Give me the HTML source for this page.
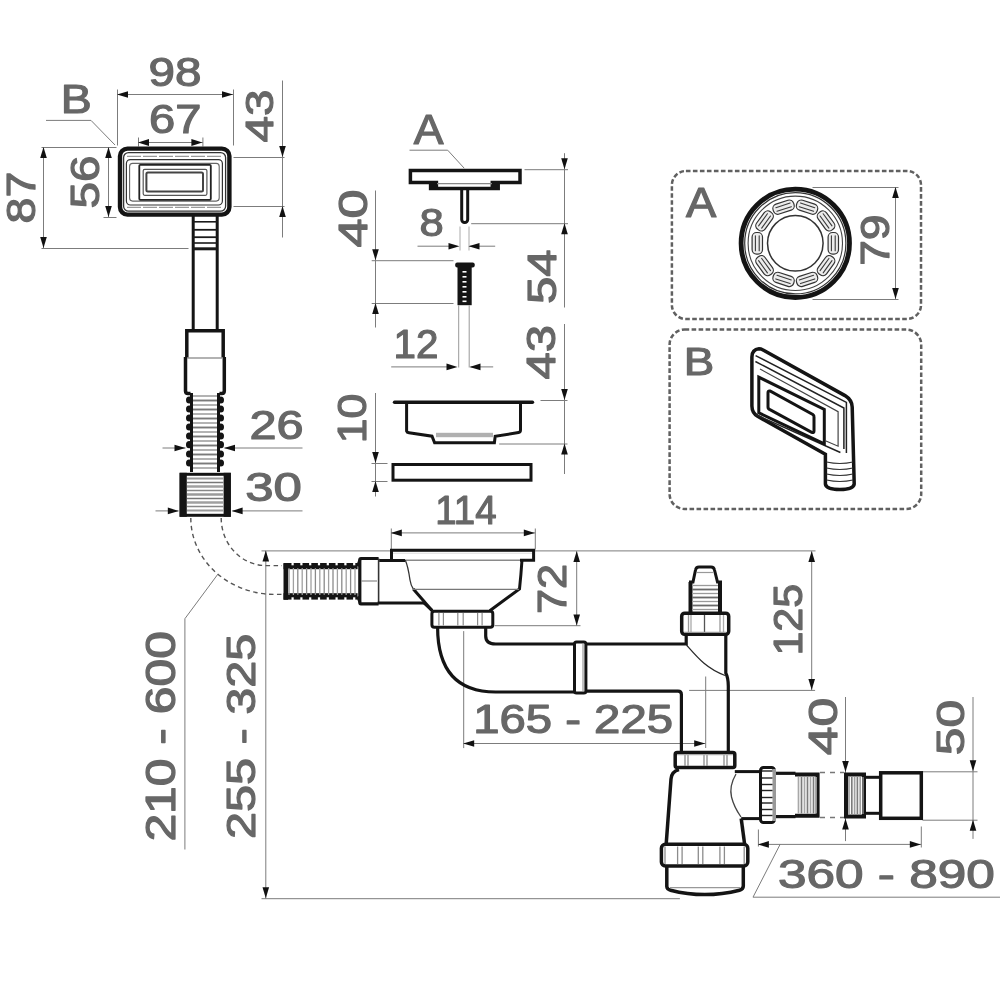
<!DOCTYPE html><html><head><meta charset="utf-8"><style>html,body{margin:0;padding:0;background:#fff;overflow:hidden}svg{display:block;will-change:transform;font-family:"Liberation Sans",sans-serif}</style></head><body><svg width="1000" height="1002" viewBox="0 0 1000 1002"><rect width="1000" height="1002" fill="#fff"/><g transform="translate(0.5,0.5)"><line x1="117" y1="94" x2="233" y2="94" stroke="#7c7c7c" stroke-width="1"/><line x1="117" y1="89" x2="117" y2="145" stroke="#7c7c7c" stroke-width="1"/><line x1="233" y1="89" x2="233" y2="145" stroke="#7c7c7c" stroke-width="1"/><line x1="138" y1="142" x2="202.4" y2="142" stroke="#7c7c7c" stroke-width="1"/><line x1="138" y1="137" x2="138" y2="146" stroke="#7c7c7c" stroke-width="1"/><line x1="202.4" y1="137" x2="202.4" y2="146" stroke="#7c7c7c" stroke-width="1"/><line x1="282" y1="80" x2="282" y2="237" stroke="#7c7c7c" stroke-width="1"/><line x1="233" y1="157" x2="284" y2="157" stroke="#7c7c7c" stroke-width="1"/><line x1="233" y1="206" x2="284" y2="206" stroke="#7c7c7c" stroke-width="1"/><line x1="43" y1="147" x2="43" y2="248" stroke="#7c7c7c" stroke-width="1"/><line x1="41" y1="147" x2="116" y2="147" stroke="#7c7c7c" stroke-width="1"/><line x1="41" y1="248" x2="188" y2="248" stroke="#7c7c7c" stroke-width="1"/><line x1="108" y1="147" x2="108" y2="217" stroke="#7c7c7c" stroke-width="1"/><line x1="103" y1="217" x2="116" y2="217" stroke="#7c7c7c" stroke-width="1"/><line x1="162" y1="447.5" x2="185" y2="447.5" stroke="#7c7c7c" stroke-width="1"/><line x1="224" y1="447.5" x2="302" y2="447.5" stroke="#7c7c7c" stroke-width="1"/><line x1="155" y1="510.4" x2="178" y2="510.4" stroke="#7c7c7c" stroke-width="1"/><line x1="232" y1="510.4" x2="302" y2="510.4" stroke="#7c7c7c" stroke-width="1"/><line x1="417" y1="245.7" x2="449" y2="245.7" stroke="#7c7c7c" stroke-width="1"/><line x1="469" y1="245.7" x2="494.7" y2="245.7" stroke="#7c7c7c" stroke-width="1"/><line x1="459.5" y1="226" x2="459.5" y2="250" stroke="#aaa" stroke-width="1"/><line x1="468.5" y1="226" x2="468.5" y2="250" stroke="#aaa" stroke-width="1"/><line x1="564" y1="152.7" x2="564" y2="307" stroke="#7c7c7c" stroke-width="1"/><line x1="564" y1="323.5" x2="564" y2="473.5" stroke="#7c7c7c" stroke-width="1"/><line x1="524" y1="169.2" x2="567.5" y2="169.2" stroke="#7c7c7c" stroke-width="1"/><line x1="470.7" y1="223.2" x2="567.5" y2="223.2" stroke="#7c7c7c" stroke-width="1"/><line x1="540" y1="400" x2="567" y2="400" stroke="#7c7c7c" stroke-width="1"/><line x1="498.7" y1="443.5" x2="567" y2="443.5" stroke="#7c7c7c" stroke-width="1"/><line x1="375" y1="190" x2="375" y2="327" stroke="#7c7c7c" stroke-width="1"/><line x1="371.2" y1="260.2" x2="453" y2="260.2" stroke="#7c7c7c" stroke-width="1"/><line x1="371.2" y1="303" x2="453" y2="303" stroke="#7c7c7c" stroke-width="1"/><line x1="458.2" y1="305" x2="458.2" y2="367" stroke="#999" stroke-width="1"/><line x1="468.7" y1="305" x2="468.7" y2="367" stroke="#999" stroke-width="1"/><line x1="390.7" y1="366.4" x2="447" y2="366.4" stroke="#7c7c7c" stroke-width="1"/><line x1="470" y1="366.4" x2="492.7" y2="366.4" stroke="#7c7c7c" stroke-width="1"/><line x1="375" y1="392.5" x2="375" y2="496" stroke="#7c7c7c" stroke-width="1"/><line x1="371" y1="463" x2="387" y2="463" stroke="#7c7c7c" stroke-width="1"/><line x1="371" y1="481" x2="387" y2="481" stroke="#7c7c7c" stroke-width="1"/><line x1="390.8" y1="532.4" x2="534.8" y2="532.4" stroke="#7c7c7c" stroke-width="1"/><line x1="390.8" y1="528" x2="390.8" y2="549" stroke="#7c7c7c" stroke-width="1"/><line x1="534.8" y1="528" x2="534.8" y2="549" stroke="#7c7c7c" stroke-width="1"/><line x1="265.3" y1="550.4" x2="265.3" y2="898.2" stroke="#7c7c7c" stroke-width="1"/><line x1="261" y1="550.4" x2="815" y2="550.4" stroke="#7c7c7c" stroke-width="1"/><line x1="261" y1="898.2" x2="679.4" y2="898.2" stroke="#7c7c7c" stroke-width="1"/><line x1="576.2" y1="550.9" x2="576.2" y2="625.5" stroke="#7c7c7c" stroke-width="1"/><line x1="494" y1="625.2" x2="580" y2="625.2" stroke="#7c7c7c" stroke-width="1"/><line x1="811.2" y1="551" x2="811.2" y2="689.9" stroke="#7c7c7c" stroke-width="1"/><line x1="688.6" y1="689.9" x2="814.6" y2="689.9" stroke="#7c7c7c" stroke-width="1"/><line x1="463.2" y1="743" x2="705.2" y2="743" stroke="#7c7c7c" stroke-width="1"/><line x1="463.2" y1="630.6" x2="463.2" y2="747.6" stroke="#7c7c7c" stroke-width="1"/><line x1="705.2" y1="676" x2="705.2" y2="747.5" stroke="#7c7c7c" stroke-width="1"/><line x1="845" y1="696.5" x2="845" y2="840.6" stroke="#7c7c7c" stroke-width="1"/><line x1="972.5" y1="696.5" x2="972.5" y2="838.4" stroke="#7c7c7c" stroke-width="1"/><line x1="922" y1="771.3" x2="977" y2="771.3" stroke="#7c7c7c" stroke-width="1"/><line x1="922" y1="819.7" x2="977" y2="819.7" stroke="#7c7c7c" stroke-width="1"/><line x1="757.9" y1="843.9" x2="920.8" y2="843.9" stroke="#7c7c7c" stroke-width="1"/><line x1="757.9" y1="829" x2="757.9" y2="846" stroke="#7c7c7c" stroke-width="1"/><line x1="920.8" y1="826" x2="920.8" y2="847" stroke="#7c7c7c" stroke-width="1"/><line x1="895" y1="187" x2="895" y2="299" stroke="#7c7c7c" stroke-width="1"/><line x1="812" y1="187" x2="898" y2="187" stroke="#7c7c7c" stroke-width="1"/><line x1="812" y1="299" x2="898" y2="299" stroke="#7c7c7c" stroke-width="1"/></g><path d="M46,120.4 H91 L115,145" stroke="#7c7c7c" stroke-width="1" fill="none" /><path d="M117,94.5 L128,91.2 L128,97.8Z" fill="#111"/><path d="M233,94.5 L222,91.2 L222,97.8Z" fill="#111"/><path d="M138,142.5 L149,138.9 L149,146.1Z" fill="#111"/><path d="M202.4,142.5 L191.4,138.9 L191.4,146.1Z" fill="#111"/><path d="M282.5,157 L279.2,146 L285.8,146Z" fill="#111"/><path d="M282.5,206 L279.2,217 L285.8,217Z" fill="#111"/><path d="M43.5,147 L40.2,158 L46.8,158Z" fill="#111"/><path d="M43.5,248 L40.2,237 L46.8,237Z" fill="#111"/><path d="M108.5,147 L105.2,158 L111.8,158Z" fill="#111"/><path d="M108.5,217 L105.2,206 L111.8,206Z" fill="#111"/><rect x="120" y="148.6" width="109.4" height="66" rx="7.5" stroke="#141414" stroke-width="4.4" fill="none" /><rect x="123.6" y="152.6" width="102" height="58.6" rx="5" stroke="#333" stroke-width="1.3" fill="none" /><path d="M127,156.4 H222 M127,207.4 H222" stroke="#9a9a9a" stroke-width="1.2" fill="none" stroke-dasharray="14 2"/><rect x="126.4" y="159.6" width="96" height="45.4" rx="4" stroke="#333" stroke-width="1.2" fill="none" /><rect x="129.6" y="163.4" width="89.6" height="37.7" rx="3" stroke="#666" stroke-width="1.1" fill="none" /><rect x="139.3" y="164.8" width="71.5" height="35" rx="1" stroke="#222" stroke-width="1.8" fill="none" /><rect x="143.2" y="169.3" width="63.7" height="26" rx="1.5" stroke="#555" stroke-width="1.2" fill="none" /><rect x="146.4" y="172.6" width="56.6" height="18.8" rx="1.5" stroke="#444" stroke-width="2" fill="none" /><line x1="193.2" y1="214" x2="193.2" y2="330" stroke="#141414" stroke-width="3" stroke-linecap="butt"/><line x1="217.2" y1="214" x2="217.2" y2="330" stroke="#141414" stroke-width="3" stroke-linecap="butt"/><line x1="193" y1="221.8" x2="217.5" y2="221.8" stroke="#1a1a1a" stroke-width="1.6" stroke-linecap="butt"/><line x1="193" y1="229.8" x2="217.5" y2="229.8" stroke="#1a1a1a" stroke-width="1.8" stroke-linecap="butt"/><line x1="193" y1="237.2" x2="217.5" y2="237.2" stroke="#1a1a1a" stroke-width="1.8" stroke-linecap="butt"/><line x1="193" y1="243" x2="217.5" y2="243" stroke="#1a1a1a" stroke-width="1.6" stroke-linecap="butt"/><line x1="193" y1="248.8" x2="217.5" y2="248.8" stroke="#1a1a1a" stroke-width="3" stroke-linecap="butt"/><path d="M186.8,358 V330.7 H223.2 V358" stroke="#141414" stroke-width="3.5" fill="none" /><path d="M185.5,357 V391 Q185.5,393.5 188,393.5 H190.5 M224.3,357 V391 Q224.3,393.5 221.8,393.5 H219.5" stroke="#141414" stroke-width="3.5" fill="none" /><line x1="187" y1="358" x2="223" y2="358" stroke="#999" stroke-width="1.3" stroke-linecap="butt"/><line x1="191.5" y1="393" x2="191.5" y2="472" stroke="#141414" stroke-width="3" stroke-linecap="butt"/><line x1="218.5" y1="393" x2="218.5" y2="472" stroke="#141414" stroke-width="3" stroke-linecap="butt"/><ellipse cx="189.2" cy="400" rx="3.2" ry="3.6" fill="#141414"/><ellipse cx="220.8" cy="400" rx="3.2" ry="3.6" fill="#141414"/><ellipse cx="189.2" cy="409" rx="3.2" ry="3.6" fill="#141414"/><ellipse cx="220.8" cy="409" rx="3.2" ry="3.6" fill="#141414"/><ellipse cx="189.2" cy="418" rx="3.2" ry="3.6" fill="#141414"/><ellipse cx="220.8" cy="418" rx="3.2" ry="3.6" fill="#141414"/><ellipse cx="189.2" cy="427" rx="3.2" ry="3.6" fill="#141414"/><ellipse cx="220.8" cy="427" rx="3.2" ry="3.6" fill="#141414"/><ellipse cx="189.2" cy="436" rx="3.2" ry="3.6" fill="#141414"/><ellipse cx="220.8" cy="436" rx="3.2" ry="3.6" fill="#141414"/><ellipse cx="189.2" cy="444.7" rx="3.2" ry="3.6" fill="#141414"/><ellipse cx="220.8" cy="444.7" rx="3.2" ry="3.6" fill="#141414"/><ellipse cx="189.2" cy="454" rx="3.2" ry="3.6" fill="#141414"/><ellipse cx="220.8" cy="454" rx="3.2" ry="3.6" fill="#141414"/><ellipse cx="189.2" cy="463" rx="3.2" ry="3.6" fill="#141414"/><ellipse cx="220.8" cy="463" rx="3.2" ry="3.6" fill="#141414"/><line x1="193" y1="396" x2="217" y2="396" stroke="#9a9a9a" stroke-width="1.5" stroke-linecap="butt"/><line x1="193" y1="400.5" x2="217" y2="400.5" stroke="#7a7a7a" stroke-width="1.9" stroke-linecap="butt"/><line x1="193" y1="405" x2="217" y2="405" stroke="#9a9a9a" stroke-width="1.5" stroke-linecap="butt"/><line x1="193" y1="409.5" x2="217" y2="409.5" stroke="#7a7a7a" stroke-width="1.9" stroke-linecap="butt"/><line x1="193" y1="414" x2="217" y2="414" stroke="#9a9a9a" stroke-width="1.5" stroke-linecap="butt"/><line x1="193" y1="418.5" x2="217" y2="418.5" stroke="#7a7a7a" stroke-width="1.9" stroke-linecap="butt"/><line x1="193" y1="423" x2="217" y2="423" stroke="#9a9a9a" stroke-width="1.5" stroke-linecap="butt"/><line x1="193" y1="427.5" x2="217" y2="427.5" stroke="#7a7a7a" stroke-width="1.9" stroke-linecap="butt"/><line x1="193" y1="432" x2="217" y2="432" stroke="#9a9a9a" stroke-width="1.5" stroke-linecap="butt"/><line x1="193" y1="436.5" x2="217" y2="436.5" stroke="#7a7a7a" stroke-width="1.9" stroke-linecap="butt"/><line x1="193" y1="441" x2="217" y2="441" stroke="#9a9a9a" stroke-width="1.5" stroke-linecap="butt"/><line x1="193" y1="445.5" x2="217" y2="445.5" stroke="#7a7a7a" stroke-width="1.9" stroke-linecap="butt"/><line x1="193" y1="450" x2="217" y2="450" stroke="#9a9a9a" stroke-width="1.5" stroke-linecap="butt"/><line x1="193" y1="454.5" x2="217" y2="454.5" stroke="#7a7a7a" stroke-width="1.9" stroke-linecap="butt"/><line x1="193" y1="459" x2="217" y2="459" stroke="#9a9a9a" stroke-width="1.5" stroke-linecap="butt"/><line x1="193" y1="463.5" x2="217" y2="463.5" stroke="#7a7a7a" stroke-width="1.9" stroke-linecap="butt"/><line x1="193" y1="468" x2="217" y2="468" stroke="#9a9a9a" stroke-width="1.5" stroke-linecap="butt"/><rect x="181.1" y="474.3" width="48.2" height="41" rx="0" stroke="#141414" stroke-width="3" fill="none" /><rect x="179.6" y="472.8" width="7.2" height="44" rx="0" fill="#141414"/><rect x="223.6" y="472.8" width="7.2" height="44" rx="0" fill="#141414"/><line x1="187" y1="478.5" x2="223.5" y2="478.5" stroke="#9a9a9a" stroke-width="2.2" stroke-linecap="butt"/><line x1="187" y1="482.5" x2="223.5" y2="482.5" stroke="#777" stroke-width="1.4" stroke-linecap="butt"/><line x1="187" y1="486.5" x2="223.5" y2="486.5" stroke="#a0a0a0" stroke-width="2.4" stroke-linecap="butt"/><line x1="187" y1="490.5" x2="223.5" y2="490.5" stroke="#888" stroke-width="1.4" stroke-linecap="butt"/><line x1="187" y1="494.5" x2="223.5" y2="494.5" stroke="#9a9a9a" stroke-width="2.4" stroke-linecap="butt"/><line x1="187" y1="498.5" x2="223.5" y2="498.5" stroke="#777" stroke-width="1.4" stroke-linecap="butt"/><line x1="187" y1="502.5" x2="223.5" y2="502.5" stroke="#a0a0a0" stroke-width="2.4" stroke-linecap="butt"/><line x1="187" y1="506.5" x2="223.5" y2="506.5" stroke="#888" stroke-width="1.4" stroke-linecap="butt"/><line x1="187" y1="510.5" x2="223.5" y2="510.5" stroke="#9a9a9a" stroke-width="2" stroke-linecap="butt"/><path d="M185.5,448 L174.5,444.7 L174.5,451.3Z" fill="#111"/><path d="M224,448 L235,444.7 L235,451.3Z" fill="#111"/><path d="M178.8,510.9 L167.8,507.6 L167.8,514.2Z" fill="#111"/><path d="M231.6,510.9 L242.6,507.6 L242.6,514.2Z" fill="#111"/><path d="M190.8,518 A84,76.4 0 0 0 275,594.4 H282" stroke="#555" stroke-width="1.4" fill="none" stroke-dasharray="4.5 3.5"/><path d="M221.2,518 A45,47.6 0 0 0 266,565.6 H282" stroke="#555" stroke-width="1.4" fill="none" stroke-dasharray="4.5 3.5"/><path d="M218,574 L184.9,618.7 V849.5" stroke="#7c7c7c" stroke-width="1" fill="none" /><path d="M409.5,150.2 H447.7 L464.2,168.2" stroke="#7c7c7c" stroke-width="1" fill="none" /><path d="M410.4,170.6 H520 V182.4 H492.3 V186 H498.2 V188.6 H430.6 V186 H436.4 V182.4 H410.4 Z" stroke="#141414" stroke-width="3.5" fill="none" /><line x1="437" y1="183.6" x2="492" y2="183.6" stroke="#888" stroke-width="1.2" stroke-linecap="butt"/><path d="M461.7,188 V219.5 A3,3 0 0 0 467.7,219.5 V188" stroke="#141414" stroke-width="3" fill="none" /><path d="M459.5,246.2 L448.5,242.9 L448.5,249.5Z" fill="#111"/><path d="M468.5,246.2 L479.5,242.9 L479.5,249.5Z" fill="#111"/><path d="M564.5,169.2 L561.2,158.2 L567.8,158.2Z" fill="#111"/><path d="M564.5,223.2 L561.2,234.2 L567.8,234.2Z" fill="#111"/><path d="M564.5,400 L561.2,389 L567.8,389Z" fill="#111"/><path d="M564.5,443.5 L561.2,454.5 L567.8,454.5Z" fill="#111"/><path d="M375.5,260.2 L372.2,249.2 L378.8,249.2Z" fill="#111"/><path d="M375.5,303 L372.2,314 L378.8,314Z" fill="#111"/><rect x="455.2" y="262.5" width="19.5" height="5" rx="2" fill="#141414"/><rect x="457.5" y="265" width="14.2" height="40.2" rx="0" fill="#141414"/><rect x="462.5" y="271" width="4" height="1.6" fill="#fff"/><rect x="462.5" y="276" width="4" height="1.6" fill="#fff"/><rect x="462.5" y="281" width="4" height="1.6" fill="#fff"/><rect x="462.5" y="286" width="4" height="1.6" fill="#fff"/><rect x="462.5" y="291" width="4" height="1.6" fill="#fff"/><rect x="462.5" y="296" width="4" height="1.6" fill="#fff"/><rect x="462.5" y="300.5" width="4" height="1.6" fill="#fff"/><path d="M457.5,366.9 L446.5,363.6 L446.5,370.2Z" fill="#111"/><path d="M469.5,366.9 L480.5,363.6 L480.5,370.2Z" fill="#111"/><path d="M375.5,463 L372.2,452 L378.8,452Z" fill="#111"/><path d="M375.5,481 L372.2,492 L378.8,492Z" fill="#111"/><line x1="394.5" y1="402.2" x2="532.5" y2="402.2" stroke="#141414" stroke-width="3.4" stroke-linecap="round"/><path d="M406.6,402 V431 Q407,432.5 409,432.8 L432,436.2 L434.6,442.8 H494.4 L495.2,436.2 L518.5,432.6 Q520.5,432.2 520.5,430 V402" stroke="#141414" stroke-width="3" fill="none" /><rect x="436" y="432.8" width="57" height="4.4" rx="0" fill="#b0b0b0"/><rect x="393" y="464.5" width="138" height="15.7" rx="0" stroke="#141414" stroke-width="3" fill="none" /><path d="M390.8,532.9 L401.8,529.6 L401.8,536.2Z" fill="#111"/><path d="M534.8,532.9 L523.8,529.6 L523.8,536.2Z" fill="#111"/><path d="M265.8,550.4 L262.5,561.4 L269.1,561.4Z" fill="#111"/><path d="M265.8,898.2 L262.5,887.2 L269.1,887.2Z" fill="#111"/><line x1="285.8" y1="563.5" x2="285.8" y2="599.8" stroke="#141414" stroke-width="4.6" stroke-linecap="butt"/><rect x="283.5" y="563" width="74.1" height="6.2" rx="0" fill="#141414"/><rect x="283.5" y="593.2" width="74.1" height="6.4" rx="0" fill="#141414"/><rect x="291.5" y="562.5" width="2.2" height="2.8" rx="0" fill="#fff"/><rect x="291.5" y="597.3" width="2.2" height="2.9" rx="0" fill="#fff"/><rect x="300.3" y="562.5" width="2.2" height="2.8" rx="0" fill="#fff"/><rect x="300.3" y="597.3" width="2.2" height="2.9" rx="0" fill="#fff"/><rect x="309.1" y="562.5" width="2.2" height="2.8" rx="0" fill="#fff"/><rect x="309.1" y="597.3" width="2.2" height="2.9" rx="0" fill="#fff"/><rect x="317.9" y="562.5" width="2.2" height="2.8" rx="0" fill="#fff"/><rect x="317.9" y="597.3" width="2.2" height="2.9" rx="0" fill="#fff"/><rect x="326.7" y="562.5" width="2.2" height="2.8" rx="0" fill="#fff"/><rect x="326.7" y="597.3" width="2.2" height="2.9" rx="0" fill="#fff"/><rect x="335.5" y="562.5" width="2.2" height="2.8" rx="0" fill="#fff"/><rect x="335.5" y="597.3" width="2.2" height="2.9" rx="0" fill="#fff"/><rect x="344.3" y="562.5" width="2.2" height="2.8" rx="0" fill="#fff"/><rect x="344.3" y="597.3" width="2.2" height="2.9" rx="0" fill="#fff"/><rect x="353.1" y="562.5" width="2.2" height="2.8" rx="0" fill="#fff"/><rect x="353.1" y="597.3" width="2.2" height="2.9" rx="0" fill="#fff"/><line x1="289" y1="568" x2="289" y2="595" stroke="#8a8a8a" stroke-width="1.3" stroke-linecap="butt"/><line x1="293.4" y1="568" x2="293.4" y2="595" stroke="#a0a0a0" stroke-width="1.3" stroke-linecap="butt"/><line x1="297.8" y1="568" x2="297.8" y2="595" stroke="#8a8a8a" stroke-width="1.3" stroke-linecap="butt"/><line x1="302.2" y1="568" x2="302.2" y2="595" stroke="#a0a0a0" stroke-width="1.3" stroke-linecap="butt"/><line x1="306.6" y1="568" x2="306.6" y2="595" stroke="#8a8a8a" stroke-width="1.3" stroke-linecap="butt"/><line x1="311" y1="568" x2="311" y2="595" stroke="#a0a0a0" stroke-width="1.3" stroke-linecap="butt"/><line x1="315.4" y1="568" x2="315.4" y2="595" stroke="#8a8a8a" stroke-width="1.3" stroke-linecap="butt"/><line x1="319.8" y1="568" x2="319.8" y2="595" stroke="#a0a0a0" stroke-width="1.3" stroke-linecap="butt"/><line x1="324.2" y1="568" x2="324.2" y2="595" stroke="#8a8a8a" stroke-width="1.3" stroke-linecap="butt"/><line x1="328.6" y1="568" x2="328.6" y2="595" stroke="#a0a0a0" stroke-width="1.3" stroke-linecap="butt"/><line x1="333" y1="568" x2="333" y2="595" stroke="#8a8a8a" stroke-width="1.3" stroke-linecap="butt"/><line x1="337.4" y1="568" x2="337.4" y2="595" stroke="#a0a0a0" stroke-width="1.3" stroke-linecap="butt"/><line x1="341.8" y1="568" x2="341.8" y2="595" stroke="#8a8a8a" stroke-width="1.3" stroke-linecap="butt"/><line x1="346.2" y1="568" x2="346.2" y2="595" stroke="#a0a0a0" stroke-width="1.3" stroke-linecap="butt"/><line x1="350.6" y1="568" x2="350.6" y2="595" stroke="#8a8a8a" stroke-width="1.3" stroke-linecap="butt"/><line x1="355" y1="568" x2="355" y2="595" stroke="#a0a0a0" stroke-width="1.3" stroke-linecap="butt"/><path d="M357.6,566.3 L359.9,560 M357.6,596.5 L359.9,602" stroke="#141414" stroke-width="3" fill="none" /><path d="M378.6,558.5 H361 Q359.8,558.5 359.8,560 V602.5 Q359.8,603.8 361,603.8 H378.6" stroke="#141414" stroke-width="3.2" fill="none" /><line x1="378.6" y1="558.5" x2="378.6" y2="604" stroke="#333" stroke-width="1.6" stroke-linecap="butt"/><line x1="361" y1="581" x2="377" y2="581" stroke="#888" stroke-width="1.2" stroke-linecap="butt"/><line x1="379.2" y1="560.5" x2="391" y2="560.5" stroke="#141414" stroke-width="3" stroke-linecap="butt"/><line x1="377.7" y1="603" x2="424" y2="603" stroke="#141414" stroke-width="3" stroke-linecap="butt"/><path d="M391.5,562 V550.2 H533.6 V560.2 H520" stroke="#141414" stroke-width="3" fill="none" /><line x1="390" y1="560.5" x2="405" y2="560.5" stroke="#141414" stroke-width="3" stroke-linecap="butt"/><line x1="405" y1="560.2" x2="520" y2="560.2" stroke="#8a8a8a" stroke-width="1.6" stroke-linecap="butt"/><line x1="393" y1="553.2" x2="532" y2="553.2" stroke="#dcdcdc" stroke-width="1.1" stroke-linecap="butt"/><path d="M405.2,560 Q408,566 410,580 Q411,586 413.3,589 L424,601" stroke="#333" stroke-width="1.3" fill="none" /><path d="M424,603 L432.2,610.7" stroke="#141414" stroke-width="3" fill="none" /><path d="M522,560 Q521,575 519.5,589 L489.8,610.7" stroke="#141414" stroke-width="3" fill="none" /><path d="M413.3,589 L432.2,610.7" stroke="#141414" stroke-width="3" fill="none" /><line x1="413" y1="589.3" x2="519" y2="589.3" stroke="#777" stroke-width="1.2" stroke-linecap="butt"/><rect x="431.9" y="611.3" width="60.9" height="15.9" rx="2.5" stroke="#141414" stroke-width="3" fill="none" /><line x1="438.9" y1="613" x2="438.9" y2="625.5" stroke="#8c8c8c" stroke-width="1.2" stroke-linecap="butt"/><line x1="443.4" y1="613" x2="443.4" y2="625.5" stroke="#8c8c8c" stroke-width="1.2" stroke-linecap="butt"/><line x1="457.8" y1="613" x2="457.8" y2="625.5" stroke="#8c8c8c" stroke-width="1.2" stroke-linecap="butt"/><line x1="463.2" y1="613" x2="463.2" y2="625.5" stroke="#8c8c8c" stroke-width="1.2" stroke-linecap="butt"/><line x1="477.6" y1="613" x2="477.6" y2="625.5" stroke="#8c8c8c" stroke-width="1.2" stroke-linecap="butt"/><line x1="482.1" y1="613" x2="482.1" y2="625.5" stroke="#8c8c8c" stroke-width="1.2" stroke-linecap="butt"/><path d="M437.6,627 C437.6,668 455,692 495.6,692 H574.5" stroke="#141414" stroke-width="3.2" fill="none" /><path d="M485.7,627 V636 Q485.7,644 495.6,644 H574.5" stroke="#141414" stroke-width="3.2" fill="none" /><rect x="574.5" y="642" width="11.4" height="51" rx="2" stroke="#141414" stroke-width="3" fill="none" /><line x1="583" y1="644" x2="583" y2="691" stroke="#999" stroke-width="1.2" stroke-linecap="butt"/><path d="M585.9,644 H686.2 V634" stroke="#141414" stroke-width="3.2" fill="none" /><path d="M585.9,691.2 H678 Q681.4,691.2 681.4,694.5 V752" stroke="#141414" stroke-width="3.2" fill="none" /><path d="M725.8,634 V673 Q728.3,678 728.3,686 V752" stroke="#141414" stroke-width="3.2" fill="none" /><path d="M686.5,645 C698,658 706,668 725,675.5" stroke="#2a2a2a" stroke-width="1.3" fill="none" /><rect x="681.7" y="613.2" width="47" height="21.1" rx="3" stroke="#141414" stroke-width="3.5" fill="none" /><line x1="688.5" y1="615" x2="688.5" y2="632" stroke="#999" stroke-width="1.3" stroke-linecap="butt"/><line x1="691" y1="615" x2="691" y2="632" stroke="#aaa" stroke-width="1.3" stroke-linecap="butt"/><line x1="704.5" y1="615" x2="704.5" y2="632" stroke="#555" stroke-width="1.3" stroke-linecap="butt"/><line x1="720" y1="615" x2="720" y2="632" stroke="#999" stroke-width="1.3" stroke-linecap="butt"/><line x1="723.5" y1="615" x2="723.5" y2="632" stroke="#aaa" stroke-width="1.3" stroke-linecap="butt"/><line x1="684" y1="632.3" x2="726" y2="632.3" stroke="#999" stroke-width="1.2" stroke-linecap="butt"/><line x1="690.5" y1="582" x2="690.5" y2="612" stroke="#141414" stroke-width="4" stroke-linecap="butt"/><line x1="720" y1="582" x2="720" y2="612" stroke="#141414" stroke-width="4" stroke-linecap="butt"/><line x1="692" y1="585.5" x2="718" y2="585.5" stroke="#9a9a9a" stroke-width="1.3" stroke-linecap="butt"/><line x1="692" y1="589.5" x2="718" y2="589.5" stroke="#6a6a6a" stroke-width="1.8" stroke-linecap="butt"/><line x1="692" y1="593.5" x2="718" y2="593.5" stroke="#9a9a9a" stroke-width="1.3" stroke-linecap="butt"/><line x1="692" y1="597.5" x2="718" y2="597.5" stroke="#6a6a6a" stroke-width="1.8" stroke-linecap="butt"/><line x1="692" y1="601.5" x2="718" y2="601.5" stroke="#9a9a9a" stroke-width="1.3" stroke-linecap="butt"/><line x1="692" y1="605.5" x2="718" y2="605.5" stroke="#6a6a6a" stroke-width="1.8" stroke-linecap="butt"/><line x1="692" y1="609.5" x2="718" y2="609.5" stroke="#9a9a9a" stroke-width="1.3" stroke-linecap="butt"/><path d="M689,582 H693 L695.5,570 Q696,567 699,567 H711 Q714,567 714.5,570 L717.5,582 H722" stroke="#141414" stroke-width="3" fill="none" /><line x1="697" y1="572.5" x2="713" y2="572.5" stroke="#999" stroke-width="1.2" stroke-linecap="butt"/><path d="M576.7,550.9 L573.4,561.9 L580,561.9Z" fill="#111"/><path d="M576.7,625.5 L573.4,614.5 L580,614.5Z" fill="#111"/><path d="M811.7,551 L808.4,562 L815,562Z" fill="#111"/><path d="M811.7,689.9 L808.4,678.9 L815,678.9Z" fill="#111"/><path d="M463.2,743.5 L474.2,740.2 L474.2,746.8Z" fill="#111"/><path d="M705.2,743.5 L694.2,740.2 L694.2,746.8Z" fill="#111"/><rect x="675.2" y="752.5" width="59.6" height="15.1" rx="2" stroke="#141414" stroke-width="3.5" fill="none" /><line x1="685" y1="754.5" x2="685" y2="766" stroke="#8c8c8c" stroke-width="1.3" stroke-linecap="butt"/><line x1="688" y1="754.5" x2="688" y2="766" stroke="#8c8c8c" stroke-width="1.3" stroke-linecap="butt"/><line x1="704" y1="754.5" x2="704" y2="766" stroke="#8c8c8c" stroke-width="1.3" stroke-linecap="butt"/><line x1="707" y1="754.5" x2="707" y2="766" stroke="#8c8c8c" stroke-width="1.3" stroke-linecap="butt"/><line x1="724" y1="754.5" x2="724" y2="766" stroke="#8c8c8c" stroke-width="1.3" stroke-linecap="butt"/><line x1="727" y1="754.5" x2="727" y2="766" stroke="#8c8c8c" stroke-width="1.3" stroke-linecap="butt"/><line x1="677" y1="754.6" x2="733" y2="754.6" stroke="#aaa" stroke-width="1.2" stroke-linecap="butt"/><path d="M679,769.6 Q671.5,771.5 671,779 L666.2,844" stroke="#141414" stroke-width="3.5" fill="none" /><path d="M741.2,818.6 L744.6,844" stroke="#141414" stroke-width="3.5" fill="none" /><path d="M734.8,771.6 H760.5" stroke="#141414" stroke-width="3" fill="none" /><path d="M741.2,818.6 H760.5" stroke="#141414" stroke-width="3" fill="none" /><path d="M736,774 Q729,786 731.5,797 Q734,807 741,817" stroke="#444" stroke-width="1.3" fill="none" /><rect x="760.5" y="767.5" width="14" height="55" rx="3" stroke="#141414" stroke-width="3" fill="none" /><rect x="772.5" y="769" width="3.5" height="52" rx="0" fill="#999"/><line x1="762" y1="771" x2="772.5" y2="771" stroke="#222" stroke-width="1.4" stroke-linecap="butt"/><line x1="762" y1="778" x2="772.5" y2="778" stroke="#222" stroke-width="1.4" stroke-linecap="butt"/><line x1="762" y1="784.5" x2="772.5" y2="784.5" stroke="#222" stroke-width="1.4" stroke-linecap="butt"/><line x1="762" y1="790.5" x2="772.5" y2="790.5" stroke="#222" stroke-width="1.4" stroke-linecap="butt"/><line x1="762" y1="797.5" x2="772.5" y2="797.5" stroke="#222" stroke-width="1.4" stroke-linecap="butt"/><line x1="762" y1="803" x2="772.5" y2="803" stroke="#222" stroke-width="1.4" stroke-linecap="butt"/><line x1="762" y1="809.5" x2="772.5" y2="809.5" stroke="#222" stroke-width="1.4" stroke-linecap="butt"/><line x1="762" y1="815.5" x2="772.5" y2="815.5" stroke="#222" stroke-width="1.4" stroke-linecap="butt"/><line x1="776" y1="773.3" x2="795.5" y2="773.3" stroke="#141414" stroke-width="3.2" stroke-linecap="butt"/><line x1="776" y1="816.6" x2="795.5" y2="816.6" stroke="#141414" stroke-width="3.2" stroke-linecap="butt"/><path d="M795,774.4 H817.6 V815.7 H795" stroke="#141414" stroke-width="4" fill="none" /><line x1="798.5" y1="777" x2="798.5" y2="813.5" stroke="#a8a8a8" stroke-width="1.7" stroke-linecap="butt"/><line x1="801.5" y1="777" x2="801.5" y2="813.5" stroke="#7c7c7c" stroke-width="1.7" stroke-linecap="butt"/><line x1="804.5" y1="777" x2="804.5" y2="813.5" stroke="#a8a8a8" stroke-width="1.7" stroke-linecap="butt"/><line x1="807.5" y1="777" x2="807.5" y2="813.5" stroke="#7c7c7c" stroke-width="1.7" stroke-linecap="butt"/><line x1="810.5" y1="777" x2="810.5" y2="813.5" stroke="#a8a8a8" stroke-width="1.7" stroke-linecap="butt"/><line x1="813.5" y1="777" x2="813.5" y2="813.5" stroke="#7c7c7c" stroke-width="1.7" stroke-linecap="butt"/><line x1="816" y1="777" x2="816" y2="813.5" stroke="#a8a8a8" stroke-width="1.7" stroke-linecap="butt"/><path d="M820,772.5 H844 M820,817.5 H844" stroke="#777" stroke-width="1.3" fill="none" stroke-dasharray="5 5"/><rect x="846" y="774.5" width="18" height="42" rx="0" stroke="#141414" stroke-width="4" fill="none" /><line x1="849" y1="777" x2="849" y2="814" stroke="#a0a0a0" stroke-width="1.7" stroke-linecap="butt"/><line x1="851.8" y1="777" x2="851.8" y2="814" stroke="#7c7c7c" stroke-width="1.7" stroke-linecap="butt"/><line x1="854.6" y1="777" x2="854.6" y2="814" stroke="#a0a0a0" stroke-width="1.7" stroke-linecap="butt"/><line x1="857.4" y1="777" x2="857.4" y2="814" stroke="#7c7c7c" stroke-width="1.7" stroke-linecap="butt"/><line x1="860.2" y1="777" x2="860.2" y2="814" stroke="#a0a0a0" stroke-width="1.7" stroke-linecap="butt"/><line x1="863" y1="777" x2="863" y2="814" stroke="#7c7c7c" stroke-width="1.7" stroke-linecap="butt"/><line x1="866" y1="777.3" x2="880" y2="777.3" stroke="#141414" stroke-width="3" stroke-linecap="butt"/><line x1="866" y1="813.3" x2="880" y2="813.3" stroke="#141414" stroke-width="3" stroke-linecap="butt"/><rect x="880.7" y="772.8" width="40.6" height="45.5" rx="0" stroke="#141414" stroke-width="3.5" fill="none" /><rect x="661.4" y="844.3" width="86.4" height="21.6" rx="4" stroke="#141414" stroke-width="3.5" fill="none" /><line x1="665" y1="846.5" x2="665" y2="864" stroke="#8c8c8c" stroke-width="1.3" stroke-linecap="butt"/><line x1="677.6" y1="846.5" x2="677.6" y2="864" stroke="#8c8c8c" stroke-width="1.3" stroke-linecap="butt"/><line x1="682.1" y1="846.5" x2="682.1" y2="864" stroke="#8c8c8c" stroke-width="1.3" stroke-linecap="butt"/><line x1="698.3" y1="846.5" x2="698.3" y2="864" stroke="#8c8c8c" stroke-width="1.3" stroke-linecap="butt"/><line x1="702.8" y1="846.5" x2="702.8" y2="864" stroke="#8c8c8c" stroke-width="1.3" stroke-linecap="butt"/><line x1="719.9" y1="846.5" x2="719.9" y2="864" stroke="#8c8c8c" stroke-width="1.3" stroke-linecap="butt"/><line x1="724.4" y1="846.5" x2="724.4" y2="864" stroke="#8c8c8c" stroke-width="1.3" stroke-linecap="butt"/><line x1="744.2" y1="846.5" x2="744.2" y2="864" stroke="#8c8c8c" stroke-width="1.3" stroke-linecap="butt"/><path d="M666.8,866 V886.5 Q667,889.4 670.5,890.2 Q704.6,899 739.5,890.2 Q743.3,889.2 743.3,886 V866" stroke="#141414" stroke-width="3.5" fill="none" /><line x1="670" y1="887.6" x2="740" y2="887.6" stroke="#999" stroke-width="1.2" stroke-linecap="butt"/><path d="M845.5,772 L842.2,761 L848.8,761Z" fill="#111"/><path d="M845.5,818.5 L842.2,829.5 L848.8,829.5Z" fill="#111"/><path d="M973,771.3 L969.7,760.3 L976.3,760.3Z" fill="#111"/><path d="M973,819.7 L969.7,830.7 L976.3,830.7Z" fill="#111"/><path d="M757.9,844.4 L768.9,841.1 L768.9,847.7Z" fill="#111"/><path d="M920.8,844.4 L909.8,841.1 L909.8,847.7Z" fill="#111"/><path d="M780.3,844 L753,897.2 H1000" stroke="#7c7c7c" stroke-width="1" fill="none" /><rect x="671.9" y="171" width="249.1" height="148" rx="14" stroke="#606060" stroke-width="2.5" fill="none" stroke-dasharray="4.6 2.4"/><rect x="669.6" y="329.5" width="251.6" height="179.5" rx="15" stroke="#606060" stroke-width="2.5" fill="none" stroke-dasharray="4.6 2.4"/><circle cx="795.3" cy="243.3" r="54.2" stroke="#141414" stroke-width="4.8" fill="none"/><circle cx="795.3" cy="243.3" r="50.6" stroke="#333" stroke-width="1.2" fill="none"/><circle cx="795.3" cy="243.3" r="47.2" stroke="#444" stroke-width="1.1" fill="none"/><circle cx="795.3" cy="243.3" r="27.8" stroke="#333" stroke-width="1.5" fill="none"/><g transform="translate(795.3,243.3) rotate(0) translate(38,0)"><rect x="-5.2" y="-10.8" width="10.4" height="21.6" rx="4.5" stroke="#333" stroke-width="1.2" fill="#ececec"/><path d="M-1.9,-7.5 V7.5 M1.9,-7.5 V7.5" stroke="#3a3a3a" stroke-width="1.1" stroke-linecap="round"/></g><g transform="translate(795.3,243.3) rotate(36) translate(38,0)"><rect x="-5.2" y="-10.8" width="10.4" height="21.6" rx="4.5" stroke="#333" stroke-width="1.2" fill="#ececec"/><path d="M-1.9,-7.5 V7.5 M1.9,-7.5 V7.5" stroke="#3a3a3a" stroke-width="1.1" stroke-linecap="round"/></g><g transform="translate(795.3,243.3) rotate(72) translate(38,0)"><rect x="-5.2" y="-10.8" width="10.4" height="21.6" rx="4.5" stroke="#333" stroke-width="1.2" fill="#ececec"/><path d="M-1.9,-7.5 V7.5 M1.9,-7.5 V7.5" stroke="#3a3a3a" stroke-width="1.1" stroke-linecap="round"/></g><g transform="translate(795.3,243.3) rotate(108) translate(38,0)"><rect x="-5.2" y="-10.8" width="10.4" height="21.6" rx="4.5" stroke="#333" stroke-width="1.2" fill="#ececec"/><path d="M-1.9,-7.5 V7.5 M1.9,-7.5 V7.5" stroke="#3a3a3a" stroke-width="1.1" stroke-linecap="round"/></g><g transform="translate(795.3,243.3) rotate(144) translate(38,0)"><rect x="-5.2" y="-10.8" width="10.4" height="21.6" rx="4.5" stroke="#333" stroke-width="1.2" fill="#ececec"/><path d="M-1.9,-7.5 V7.5 M1.9,-7.5 V7.5" stroke="#3a3a3a" stroke-width="1.1" stroke-linecap="round"/></g><g transform="translate(795.3,243.3) rotate(180) translate(38,0)"><rect x="-5.2" y="-10.8" width="10.4" height="21.6" rx="4.5" stroke="#333" stroke-width="1.2" fill="#ececec"/><path d="M-1.9,-7.5 V7.5 M1.9,-7.5 V7.5" stroke="#3a3a3a" stroke-width="1.1" stroke-linecap="round"/></g><g transform="translate(795.3,243.3) rotate(216) translate(38,0)"><rect x="-5.2" y="-10.8" width="10.4" height="21.6" rx="4.5" stroke="#333" stroke-width="1.2" fill="#ececec"/><path d="M-1.9,-7.5 V7.5 M1.9,-7.5 V7.5" stroke="#3a3a3a" stroke-width="1.1" stroke-linecap="round"/></g><g transform="translate(795.3,243.3) rotate(252) translate(38,0)"><rect x="-5.2" y="-10.8" width="10.4" height="21.6" rx="4.5" stroke="#333" stroke-width="1.2" fill="#ececec"/><path d="M-1.9,-7.5 V7.5 M1.9,-7.5 V7.5" stroke="#3a3a3a" stroke-width="1.1" stroke-linecap="round"/></g><g transform="translate(795.3,243.3) rotate(288) translate(38,0)"><rect x="-5.2" y="-10.8" width="10.4" height="21.6" rx="4.5" stroke="#333" stroke-width="1.2" fill="#ececec"/><path d="M-1.9,-7.5 V7.5 M1.9,-7.5 V7.5" stroke="#3a3a3a" stroke-width="1.1" stroke-linecap="round"/></g><g transform="translate(795.3,243.3) rotate(324) translate(38,0)"><rect x="-5.2" y="-10.8" width="10.4" height="21.6" rx="4.5" stroke="#333" stroke-width="1.2" fill="#ececec"/><path d="M-1.9,-7.5 V7.5 M1.9,-7.5 V7.5" stroke="#3a3a3a" stroke-width="1.1" stroke-linecap="round"/></g><path d="M895.5,187 L892.2,198 L898.8,198Z" fill="#111"/><path d="M895.5,299 L892.2,288 L898.8,288Z" fill="#111"/><path d="M751.9,406 V357 Q752,349.5 759,348.8 Q761,348.8 764,350.5 L845,395.6 Q852,400 852.2,407 L854.2,484 Q853.5,489.5 840,489.5 Q826,489.5 825.4,484 V454.2 L757.6,416.3 Q752,413 751.9,406 Z" stroke="#141414" stroke-width="3.5" fill="none" /><path d="M755.6,355.6 L846.4,402.4 V453 M755.4,361.5 L843.9,408 V449 M755.3,414.5 L840.4,452.5" stroke="#222" stroke-width="1.5" fill="none" /><path d="M760,369 L838.1,411.7 V446.2 L826,441" stroke="#444" stroke-width="1.2" fill="none" /><path d="M758.8,377.2 L824.3,409.4 V443.9 L758.8,412.8 Z" stroke="#141414" stroke-width="3" fill="none" /><path d="M770,391 Q767.8,390.5 768,393 V407 Q768,409 770,409.6 L811.7,432.4 Q814,433.2 814,431 V417 Q814.2,415.5 812.8,414.5 Z" stroke="#141414" stroke-width="3" fill="none" /><path d="M826.5,462 Q840,465 853,462" stroke="#333" stroke-width="1.2" fill="none" /><path d="M826.5,468 Q840,471 853,468" stroke="#333" stroke-width="1.2" fill="none" /><path d="M826.5,474 Q840,477 853,474" stroke="#333" stroke-width="1.2" fill="none" /><path d="M826.5,480 Q840,483 853,480" stroke="#333" stroke-width="1.2" fill="none" /><g font-family="Liberation Sans" font-weight="normal" font-size="100" fill="#676767" stroke="#676767" stroke-width="2.9" stroke-linejoin="round"><text transform="matrix(0.4643,0,0,0.4110,60.75,113.18)">B</text><text transform="matrix(0.4762,0,0,0.4000,148.57,85.80)">98</text><text transform="matrix(0.4712,0,0,0.4000,149.12,132.80)">67</text><text transform="matrix(0,-0.4766,0.3867,0,272.84,142.48)">43</text><text transform="matrix(0,-0.4667,0.4000,0,34.80,223.40)">87</text><text transform="matrix(0,-0.4762,0.4000,0,98.80,208.43)">56</text><text transform="matrix(0.4865,0,0,0.4067,249.45,438.78)">26</text><text transform="matrix(0.5093,0,0,0.3973,245.18,501.01)">30</text><text transform="matrix(0.4464,0,0,0.4219,413.65,144.16)">A</text><text transform="matrix(0,-0.5241,0.4093,0,367.27,247.52)">40</text><text transform="matrix(0.4360,0,0,0.3893,419.39,236.03)">8</text><text transform="matrix(0,-0.4907,0.4054,0,555.78,303.97)">54</text><text transform="matrix(0.4039,0,0,0.4054,393.58,357.69)">12</text><text transform="matrix(0,-0.4907,0.4107,0,555.27,379.49)">43</text><text transform="matrix(0,-0.4447,0.3987,0,365.50,443.17)">10</text><text transform="matrix(0.3842,0,0,0.4082,435.29,524.18)">114</text><text transform="matrix(0,-0.4538,0.4149,0,566.37,614.12)">72</text><text transform="matrix(0,-0.4304,0.4067,0,802.28,655.58)">125</text><text transform="matrix(0,-0.4981,0.4160,0,174.95,841.59)">210 - 600</text><text transform="matrix(0,-0.4856,0.3987,0,254.80,838.94)">255 - 325</text><text transform="matrix(0.4729,0,0,0.4053,473.26,733.48)">165 - 225</text><text transform="matrix(0,-0.5194,0.4107,0,837.07,755.32)">40</text><text transform="matrix(0,-0.4981,0.3960,0,963.61,755.19)">50</text><text transform="matrix(0.5132,0,0,0.3987,777.97,888.20)">360 - 890</text><text transform="matrix(0.4536,0,0,0.4178,685.95,216.86)">A</text><text transform="matrix(0,-0.4615,0.4000,0,888.80,265.85)">79</text><text transform="matrix(0.4571,0,0,0.3877,683.80,374.52)">B</text></g></svg></body></html>
